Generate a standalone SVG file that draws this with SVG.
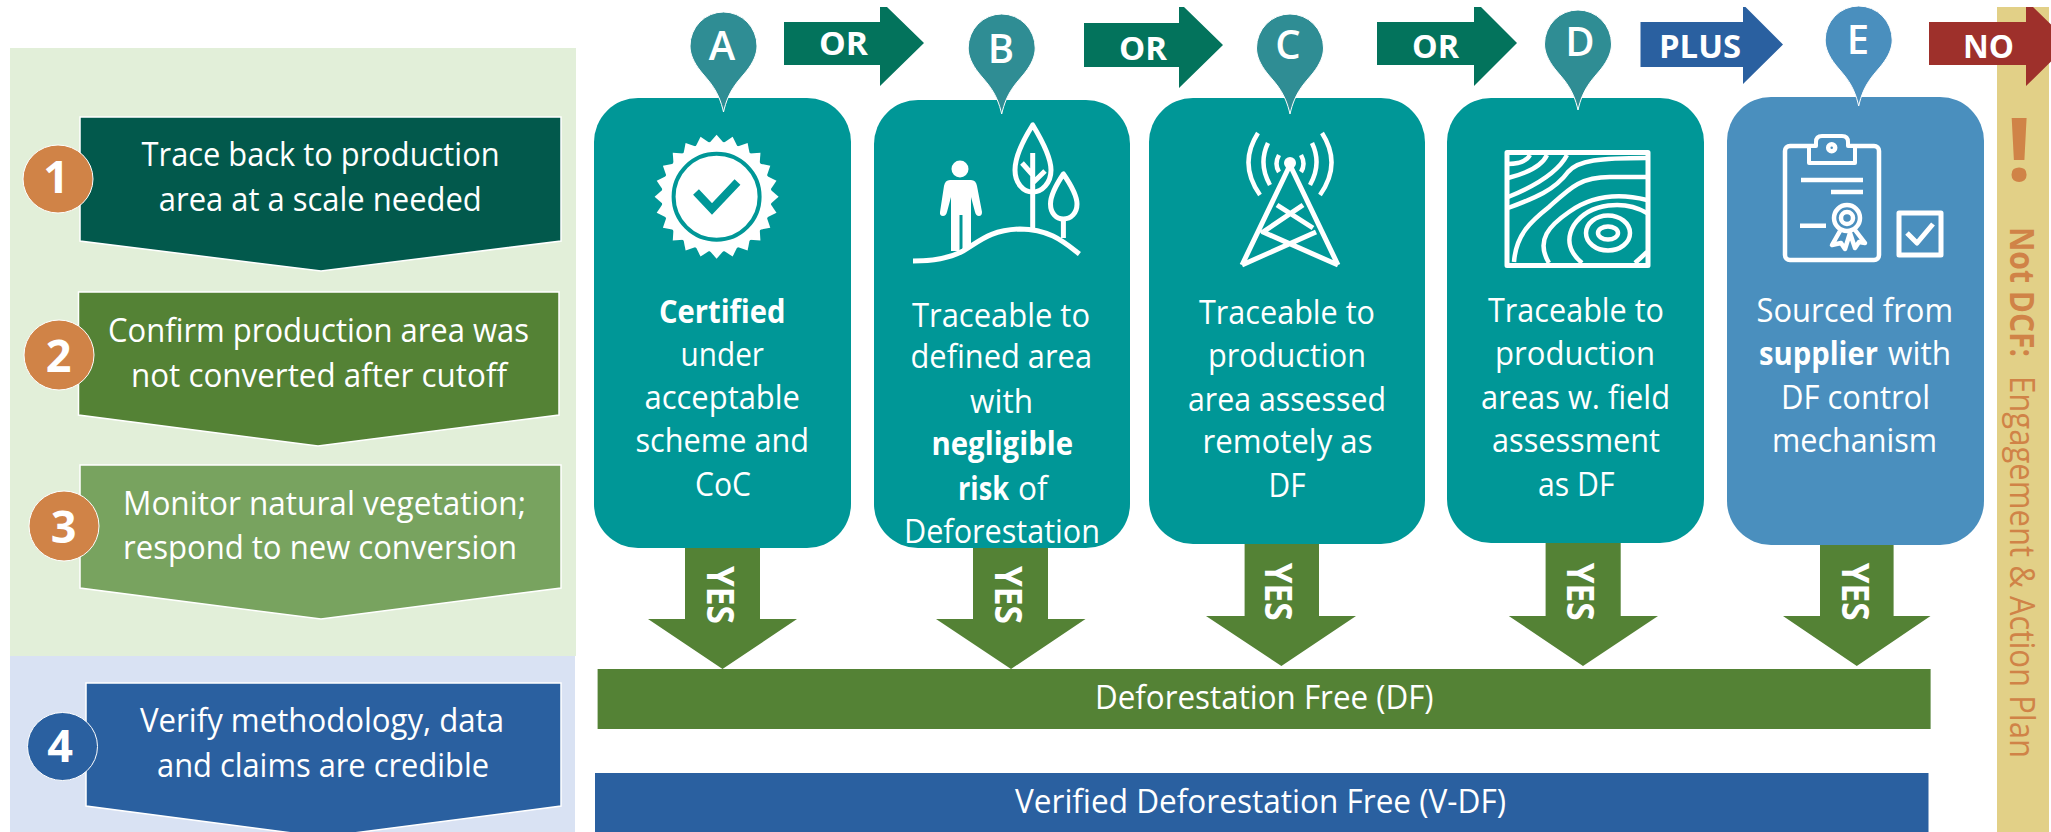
<svg xmlns="http://www.w3.org/2000/svg" xmlns:xlink="http://www.w3.org/1999/xlink" width="2051" height="832" viewBox="0 0 2051 832">
<style>
text{font-family:"Open Sans","Noto Sans","Liberation Sans",sans-serif;fill:#fff}
.b{font-size:33px}
.bb{font-size:33px;font-weight:700}
.num{font-size:45px;font-weight:700;text-anchor:middle}
.pl{font-size:40px;font-weight:600;text-anchor:middle}
.ar{font-size:33px;font-weight:700}
.yes{font-size:38px;font-weight:700}
.ic{fill:none;stroke:#fff;stroke-width:5;stroke-linecap:butt;stroke-linejoin:round}
.ic3{fill:none;stroke:#fff;stroke-width:4.5;stroke-linejoin:round}
.step{stroke:#fff;stroke-width:1.5}
.dot{fill:#D08347;stroke:#fff;stroke-width:1}
.teal{fill:#009797}
.blue{fill:#4A8FBE}
.pinT{fill:#2F8D94;stroke:#fff;stroke-width:1}
.pinB{fill:#4A8FBE;stroke:#fff;stroke-width:1}
.yesarrow{fill:#548235}
.nd{fill:#D08347;font-size:34px}
</style>
<defs>
<path id="pin" d="M0,0 C-5,-22 -14,-30 -23,-41 C-30,-50 -33.5,-58 -33.5,-66 A33.5,34 0 1 1 33.5,-66 C33.5,-58 30,-50 23,-41 C14,-30 5,-22 0,0Z"/>
<polygon id="tooth" points="0,-62 7,-54 7,54 0,62 -7,54 -7,-54" fill="#fff"/>
</defs>
<rect width="2051" height="832" fill="#fff"/>
<g id="panels">
<rect x="10" y="48" width="566" height="608" fill="#E2EFD9"/>
<rect x="10" y="656" width="565" height="176" fill="#D9E2F3"/>
<rect x="1997" y="7" width="52" height="825" fill="#E2D087"/>
</g>
<g id="connectors">
<polygon class="yesarrow" points="685,540 760,540 760,619 797,619 722.5,669 648,619 685,619"/>
<polygon class="yesarrow" points="973,540 1048,540 1048,619 1085.5,619 1011,669 936,619 973,619"/>
<polygon class="yesarrow" points="1244.6,535 1319,535 1319,616 1356,616 1281.4,666 1206,616 1244.6,616"/>
<polygon class="yesarrow" points="1545.6,535 1620.7,535 1620.7,616 1658,616 1583,666 1508.8,616 1545.6,616"/>
<polygon class="yesarrow" points="1820,535 1893.6,535 1893.6,616 1930.5,616 1856.8,666 1783,616 1820,616"/>
<polygon fill="#03735C" points="784,22 880,22 880,7 887,7 924,43 880,86 880,65 784,65"/>
<polygon fill="#03735C" points="1084,23 1179,23 1179,7 1184,7 1223,45 1179,88 1179,67 1084,67"/>
<polygon fill="#03735C" points="1377,22 1474,22 1474,7 1481,7 1517,43 1474,86 1474,65 1377,65"/>
<polygon fill="#2A60A0" points="1640.5,22 1743,22 1743,7 1745.5,7 1783,44.5 1743,84 1743,67 1640.5,67"/>
<polygon fill="#9E302B" points="1929,22 2026,22 2026,7 2033,7 2070,43 2026,86 2026,65 1929,65"/>
<text class="ar" x="819" y="55" textLength="49" lengthAdjust="spacingAndGlyphs">OR</text>
<text class="ar" x="1119" y="60" textLength="48" lengthAdjust="spacingAndGlyphs">OR</text>
<text class="ar" x="1412" y="58" textLength="47" lengthAdjust="spacingAndGlyphs">OR</text>
<text class="ar" x="1659" y="58" textLength="82" lengthAdjust="spacingAndGlyphs">PLUS</text>
<text class="ar" x="1963" y="58" textLength="51" lengthAdjust="spacingAndGlyphs">NO</text>
</g>
<g id="step1">
<polygon class="step" fill="#02594C" points="80,117 561,117 561,241 321,271 80,241"/>
<ellipse class="dot" cx="58" cy="179" rx="35" ry="34"/>
<text class="num" x="56" y="193">1</text>
<text class="b" x="141.6" y="166" textLength="358" lengthAdjust="spacingAndGlyphs">Trace back to production</text>
<text class="b" x="158.8" y="211" textLength="323" lengthAdjust="spacingAndGlyphs">area at a scale needed</text>
</g>
<g id="step2">
<polygon class="step" fill="#548235" points="78.5,292 559,292 559,415 318,446 78.5,415"/>
<ellipse class="dot" cx="59" cy="355" rx="35" ry="35"/>
<text class="num" x="58.5" y="372">2</text>
<text class="b" x="108" y="342" textLength="421" lengthAdjust="spacingAndGlyphs">Confirm production area was</text>
<text class="b" x="131" y="387" textLength="376" lengthAdjust="spacingAndGlyphs">not converted after cutoff</text>
</g>
<g id="step3">
<polygon class="step" fill="#78A35F" points="80,465 561,465 561,588 321,619 80,588"/>
<ellipse class="dot" cx="64" cy="526" rx="35" ry="35"/>
<text class="num" x="63.5" y="543">3</text>
<text class="b" x="123" y="515" textLength="403" lengthAdjust="spacingAndGlyphs">Monitor natural vegetation;</text>
<text class="b" x="123" y="559" textLength="394" lengthAdjust="spacingAndGlyphs">respond to new conversion</text>
</g>
<g id="step4">
<polygon class="step" fill="#2A60A0" points="86,683 561,683 561,806 323,837 86,806"/>
<ellipse cx="62.5" cy="746.5" rx="35" ry="34" fill="#2A60A0" stroke="#fff" stroke-width="1"/>
<text class="num" x="60" y="762">4</text>
<text class="b" x="140" y="732" textLength="364" lengthAdjust="spacingAndGlyphs">Verify methodology, data</text>
<text class="b" x="157" y="777" textLength="332" lengthAdjust="spacingAndGlyphs">and claims are credible</text>
</g>
<g id="card-a">
<rect class="teal" x="594" y="98" width="257" height="450" rx="44"/>
<g transform="translate(716.6 196.7)">
<use xlink:href="#tooth"/><use xlink:href="#tooth" transform="rotate(15)"/><use xlink:href="#tooth" transform="rotate(30)"/><use xlink:href="#tooth" transform="rotate(45)"/><use xlink:href="#tooth" transform="rotate(60)"/><use xlink:href="#tooth" transform="rotate(75)"/><use xlink:href="#tooth" transform="rotate(90)"/><use xlink:href="#tooth" transform="rotate(105)"/><use xlink:href="#tooth" transform="rotate(120)"/><use xlink:href="#tooth" transform="rotate(135)"/><use xlink:href="#tooth" transform="rotate(150)"/><use xlink:href="#tooth" transform="rotate(165)"/>
<circle r="55" fill="#fff"/>
<circle r="43" fill="none" stroke="#009797" stroke-width="4"/>
</g>
<polyline points="696,192 712,209 737.5,182" fill="none" stroke="#009797" stroke-width="8"/>
<text class="bb" x="659" y="322.7" textLength="126.5" lengthAdjust="spacingAndGlyphs">Certified</text>
<text class="b" x="680.6" y="366" textLength="83.4" lengthAdjust="spacingAndGlyphs">under</text>
<text class="b" x="644.5" y="409" textLength="155.5" lengthAdjust="spacingAndGlyphs">acceptable</text>
<text class="b" x="635.5" y="452" textLength="173.5" lengthAdjust="spacingAndGlyphs">scheme and</text>
<text class="b" x="695" y="496" textLength="56" lengthAdjust="spacingAndGlyphs">CoC</text>
</g>
<g id="card-b">
<rect class="teal" x="874" y="100" width="256" height="448" rx="44"/>
<circle cx="960" cy="169" r="8.5" fill="#fff"/>
<path d="M950,180 H971 Q976,180 977,186 L982,212 Q982,216 979,216 Q976,216 975,212 L971,197 V249 H962.5 V215 H959.5 V251 H951 V197 L947,212 Q946,216 943,216 Q939.5,216 940,212 L944,186 Q945,180 950,180Z" fill="#fff"/>
<path class="ic" d="M913,261 C935,261 950,258 963,251 C980,241 990,230 1020,229 C1050,229 1065,243 1079.4,254"/>
<path class="ic" d="M1032.7,125 C1022,142 1015,158 1015,170 C1015,183 1023,192 1032.7,192 C1042,192 1051,183 1051,170 C1051,158 1043,142 1032.7,125Z"/>
<path class="ic" d="M1032.7,153 V229 M1022,163 L1032.7,175 M1045,171 L1032.7,183"/>
<path class="ic" d="M1063.4,174 C1056,185 1050.5,195 1050.5,204 C1050.5,213 1056,219 1063.4,219 C1071,219 1077,213 1077,204 C1077,195 1071,185 1063.4,174Z"/>
<path class="ic" d="M1063.4,219 V238"/>
<text class="b" x="912" y="327" textLength="178" lengthAdjust="spacingAndGlyphs">Traceable to</text>
<text class="b" x="910.5" y="368" textLength="181.5" lengthAdjust="spacingAndGlyphs">defined area</text>
<text class="b" x="970" y="413" textLength="63" lengthAdjust="spacingAndGlyphs">with</text>
<text class="bb" x="931.5" y="455" textLength="141.5" lengthAdjust="spacingAndGlyphs">negligible</text>
<text class="bb" x="958" y="500" textLength="51" lengthAdjust="spacingAndGlyphs">risk</text>
<text class="b" x="1018" y="500" textLength="29.6" lengthAdjust="spacingAndGlyphs">of</text>
<text class="b" x="904" y="543" textLength="196" lengthAdjust="spacingAndGlyphs">Deforestation</text>
</g>
<g id="card-c">
<rect class="teal" x="1149" y="98" width="276" height="446" rx="44"/>
<circle cx="1290" cy="163" r="6" fill="#fff"/>
<path class="ic" d="M1290,165 L1242,265 M1290,165 L1338,265 M1277,205 L1313,228 M1303,205 L1263,232 L1338,265 M1316,232 L1242,265"/>
<path class="ic3" d="M1279,155 Q1274,164 1279,172 M1301,155 Q1306,164 1301,172 M1268,143 Q1258,164 1270,185 M1312,143 Q1322,164 1310,185 M1258,133 Q1238,164 1260,195 M1322,133 Q1342,164 1320,195"/>
<text class="b" x="1199" y="324" textLength="176" lengthAdjust="spacingAndGlyphs">Traceable to</text>
<text class="b" x="1208" y="367" textLength="158" lengthAdjust="spacingAndGlyphs">production</text>
<text class="b" x="1188" y="411" textLength="198" lengthAdjust="spacingAndGlyphs">area assessed</text>
<text class="b" x="1202.5" y="453" textLength="170" lengthAdjust="spacingAndGlyphs">remotely as</text>
<text class="b" x="1268.6" y="497" textLength="37" lengthAdjust="spacingAndGlyphs">DF</text>
</g>
<g id="card-d">
<rect class="teal" x="1447" y="98" width="257" height="445" rx="44"/>
<rect class="ic" x="1507" y="152.5" width="141" height="113"/>
<path class="ic3" d="M1508,164 Q1525,164 1530,155 M1508,178 Q1540,170 1547,155 M1508,197 Q1555,178 1567,155 M1508,208 C1535,198 1555,190 1568,172 C1578,160 1600,158 1647,158 M1514,262 C1516,235 1530,222 1549,207 C1570,188 1580,177 1610,177 L1647,177 M1549,263 C1535,240 1550,225 1569,212 C1590,197 1615,192 1647,200 M1647,213 C1625,200 1590,202 1574,225 C1565,240 1570,253 1582,263 M1635,263 L1647,252"/>
<ellipse class="ic3" cx="1608" cy="233" rx="22" ry="17.5"/>
<ellipse class="ic3" cx="1608" cy="233" rx="10" ry="6.5"/>
<text class="b" x="1488" y="322" textLength="176" lengthAdjust="spacingAndGlyphs">Traceable to</text>
<text class="b" x="1495" y="365" textLength="160" lengthAdjust="spacingAndGlyphs">production</text>
<text class="b" x="1481" y="409" textLength="189" lengthAdjust="spacingAndGlyphs">areas w. field</text>
<text class="b" x="1492" y="452" textLength="168" lengthAdjust="spacingAndGlyphs">assessment</text>
<text class="b" x="1538" y="496" textLength="76.5" lengthAdjust="spacingAndGlyphs">as DF</text>
</g>
<g id="card-e">
<rect class="blue" x="1727" y="97" width="257" height="448" rx="44"/>
<rect class="ic3" x="1785" y="146" width="94" height="114" rx="5"/>
<path d="M1809,146 V163 H1855 V146 H1848 V142 Q1848,136 1842,136 H1822 Q1816,136 1816,142 V146Z" fill="#4A8FBE" stroke="#fff" stroke-width="4" stroke-linejoin="round"/>
<circle class="ic3" cx="1831.7" cy="147.7" r="3.5"/>
<path class="ic3" d="M1801,180 H1863 M1831,192 H1863 M1800,225.7 H1826"/>
<circle class="ic3" cx="1847" cy="218" r="13"/>
<circle class="ic3" cx="1847" cy="218" r="6"/>
<path class="ic3" d="M1840,231 L1832,245 L1841,243 L1845,249 L1850,233 L1855,248 L1859,242 L1865,243 L1855,230" stroke-width="3"/>
<rect class="ic" x="1899" y="213" width="42" height="42"/>
<polyline class="ic" points="1907,233 1917,243 1933,224"/>
<text class="b" x="1756.5" y="322" textLength="196.5" lengthAdjust="spacingAndGlyphs">Sourced from</text>
<text class="bb" x="1759" y="365" textLength="119" lengthAdjust="spacingAndGlyphs">supplier</text>
<text class="b" x="1888" y="365" textLength="63" lengthAdjust="spacingAndGlyphs">with</text>
<text class="b" x="1781" y="409" textLength="149" lengthAdjust="spacingAndGlyphs">DF control</text>
<text class="b" x="1772" y="452" textLength="165" lengthAdjust="spacingAndGlyphs">mechanism</text>
</g>
<g id="yes-labels">
<text class="yes" transform="translate(707 566) rotate(90)" textLength="58" lengthAdjust="spacingAndGlyphs">YES</text>
<text class="yes" transform="translate(995 566) rotate(90)" textLength="58" lengthAdjust="spacingAndGlyphs">YES</text>
<text class="yes" transform="translate(1265.4 562.7) rotate(90)" textLength="58" lengthAdjust="spacingAndGlyphs">YES</text>
<text class="yes" transform="translate(1567 562.7) rotate(90)" textLength="58" lengthAdjust="spacingAndGlyphs">YES</text>
<text class="yes" transform="translate(1842 562.7) rotate(90)" textLength="58" lengthAdjust="spacingAndGlyphs">YES</text>
</g>
<g id="pin-a"><use xlink:href="#pin" class="pinT" transform="translate(723.5 112)"/><text class="pl" x="722" y="60">A</text></g>
<g id="pin-b"><use xlink:href="#pin" class="pinT" transform="translate(1001.7 114)"/><text class="pl" x="1001" y="63">B</text></g>
<g id="pin-c"><use xlink:href="#pin" class="pinT" transform="translate(1290 114)"/><text class="pl" x="1288" y="59">C</text></g>
<g id="pin-d"><use xlink:href="#pin" class="pinT" transform="translate(1578 110)"/><text class="pl" x="1580" y="56">D</text></g>
<g id="pin-e"><use xlink:href="#pin" class="pinB" transform="translate(1858.7 106)"/><text class="pl" x="1858" y="54">E</text></g>
<g id="bar-df">
<rect x="597.6" y="669" width="1333" height="60" fill="#548235"/>
<text class="b" x="1095" y="709" textLength="338.6" lengthAdjust="spacingAndGlyphs">Deforestation Free (DF)</text>
</g>
<g id="bar-vdf">
<rect x="595" y="773" width="1333.5" height="59" fill="#2A60A0"/>
<text class="b" x="1015" y="813" textLength="491" lengthAdjust="spacingAndGlyphs">Verified Deforestation Free (V-DF)</text>
</g>
<g id="not-dcf">
<text x="2019" y="181" text-anchor="middle" style="fill:#D08347;font-size:88px;font-weight:700">!</text>
<text class="nd" transform="translate(2010 227) rotate(90)" font-weight="700" textLength="130" lengthAdjust="spacingAndGlyphs">Not DCF:</text>
<text class="nd" transform="translate(2010 376) rotate(90)" textLength="382" lengthAdjust="spacingAndGlyphs">Engagement &amp; Action Plan</text>
</g>
</svg>
